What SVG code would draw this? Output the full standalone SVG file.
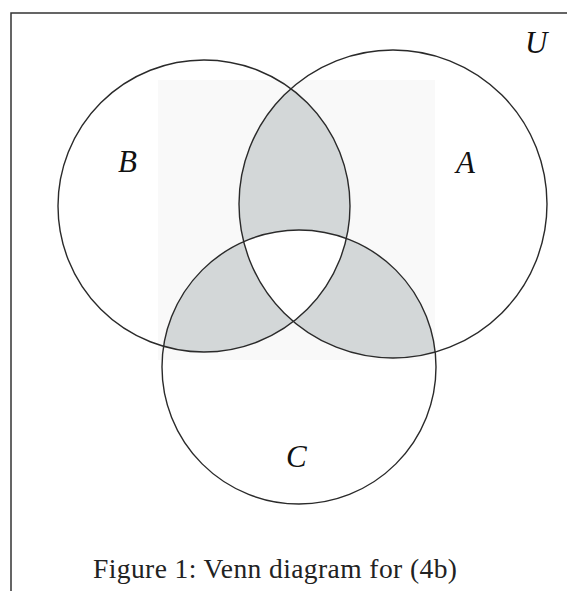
<svg xmlns="http://www.w3.org/2000/svg" width="567" height="591" viewBox="0 0 567 591">
<style>
.ring{fill:none;stroke:#2a2a2a;stroke-width:1.4}
.shade{fill:#d3d7d8}
.lbl{font-family:"Liberation Serif",serif;font-style:italic;font-size:31px;fill:#111}
.cap{font-family:"Liberation Serif",serif;font-size:27.5px;fill:#222}
.frame{stroke:#333;stroke-width:1.5;fill:none}
</style>
<defs>
<clipPath id="clipA"><circle cx="393" cy="204" r="154"/></clipPath>
<clipPath id="clipB"><circle cx="204" cy="206" r="146"/></clipPath>
<clipPath id="clipC"><circle cx="299" cy="367" r="137"/></clipPath>
</defs>
<rect width="567" height="591" fill="#fff"/>
<g id="frame">
<path class="frame" d="M11,591 V13 H567"/>
</g>
<rect x="158" y="80" width="277" height="280" fill="#f9f9f9"/>
<g id="shading">
<g clip-path="url(#clipA)"><circle class="shade" cx="204" cy="206" r="146"/></g>
<g clip-path="url(#clipA)"><circle class="shade" cx="299" cy="367" r="137"/></g>
<g clip-path="url(#clipB)"><circle class="shade" cx="299" cy="367" r="137"/></g>
<g clip-path="url(#clipA)"><g clip-path="url(#clipB)"><circle cx="299" cy="367" r="137" fill="#fff"/></g></g>
</g>
<g id="setB"><circle class="ring" cx="204" cy="206" r="146"/><text class="lbl" x="118" y="172">B</text></g>
<g id="setA"><circle class="ring" cx="393" cy="204" r="154"/><text class="lbl" x="456" y="173">A</text></g>
<g id="setC"><circle class="ring" cx="299" cy="367" r="137"/><text class="lbl" x="286" y="467">C</text></g>
<g id="universe"><text class="lbl" x="525" y="53">U</text></g>
<g id="connectors"/>
<text class="cap" x="93" y="578" textLength="364" lengthAdjust="spacing">Figure 1: Venn diagram for (4b)</text>
</svg>
